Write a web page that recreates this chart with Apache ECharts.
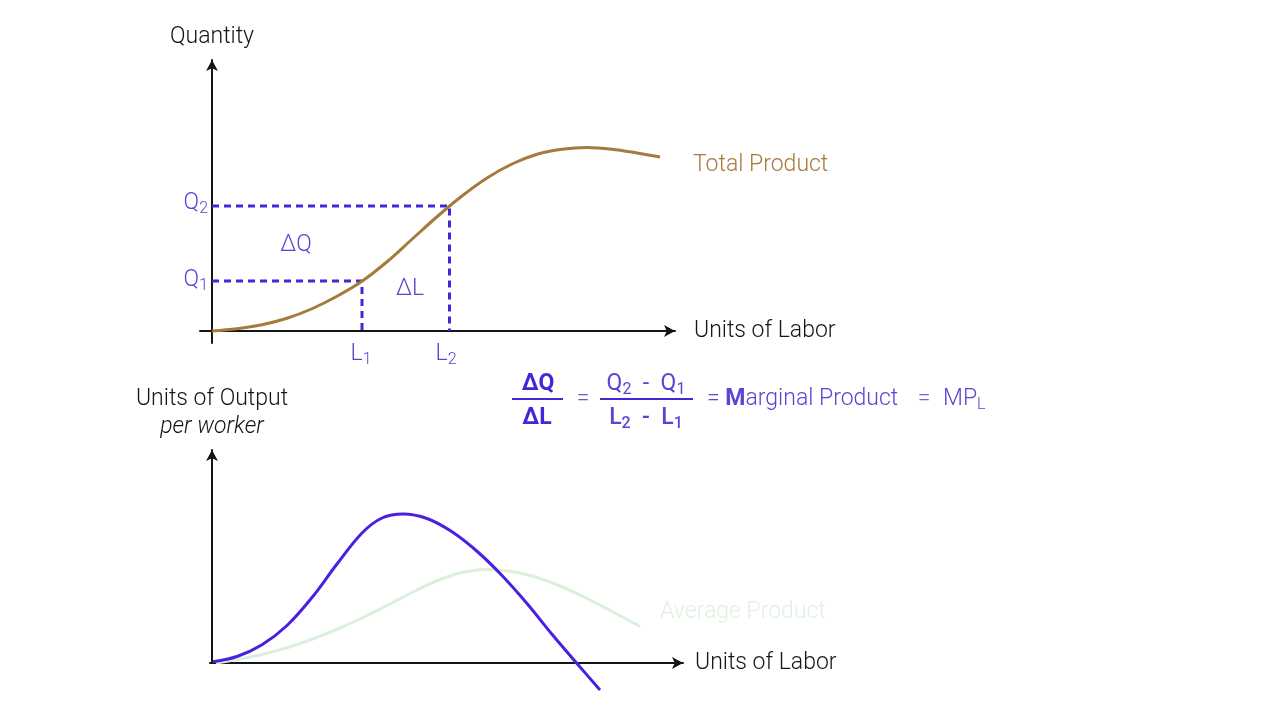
<!DOCTYPE html>
<html>
<head>
<meta charset="utf-8">
<script src="https://cdn.jsdelivr.net/npm/echarts@6/dist/echarts.min.js"></script>
<style>
  html, body { margin: 0; padding: 0; background: #fff; }
  #chart { width: 1280px; height: 720px; }
</style>
</head>
<body>
<div id="chart"></div>
<script>
// 总产量曲线（上图）
const tpLabor = [0, 0.5, 1, 1.5, 2, 2.5, 3, 3.5, 4, 4.5, 5, 5.5, 6, 6.5, 7, 7.5, 8, 8.5, 8.96]
const tpQuantity = [0, 0.09, 0.25, 0.51, 0.89, 1.39, 1.99, 2.77, 3.67, 4.57, 5.4, 6.12, 6.68, 7.07, 7.27, 7.34, 7.27, 7.12, 6.96]

// L1/L2 与 Q1/Q2
const l1 = 3, q1 = 2
const l2 = 4.75, q2 = 5

// 边际产量 / 平均产量（下图）
const mpLabor = [0.02, 0.5, 1, 1.5, 2, 2.5, 3, 3.4, 3.82, 4.3, 4.8, 5.3, 5.8, 6.3, 6.8, 7.3, 7.76]
const mpValue = [0.05, 0.26, 0.73, 1.5, 2.62, 3.96, 5.2, 5.8, 5.96, 5.78, 5.25, 4.47, 3.5, 2.38, 1.15, -0.02, -1.08]
const apLabor = [0.08, 0.5, 1, 1.5, 2, 2.5, 3, 3.5, 4, 4.5, 5, 5.5, 6, 6.5, 7, 7.5, 8, 8.56]
const apValue = [0, 0.14, 0.34, 0.61, 0.95, 1.35, 1.8, 2.3, 2.82, 3.29, 3.62, 3.74, 3.66, 3.42, 3.05, 2.58, 2.06, 1.47]

const FONT = 'Roboto, "Liberation Sans", sans-serif'
const FS = 23
const SUB = 16
const violet = '#4426d6'
const labelViolet = '#5a44d6'
const black = '#151515'

const zip = (xs, ys) => xs.map((x, i) => [x, ys[i]])

const chart = echarts.init(document.getElementById('chart'))

function axisBase() {
  return {
    type: 'value',
    splitLine: { show: false },
    axisTick: { show: false },
    axisLabel: { show: false },
    axisLine: {
      show: true,
      onZero: true,
      symbol: ['none', 'arrow'],
      symbolSize: [9, 11],
      lineStyle: { color: black, width: 2 }
    },
    nameTextStyle: { fontFamily: FONT, fontWeight: 300, fontSize: FS, color: black }
  }
}

function sub(main, s) {
  return `{m|${main}}{s|${s}}`
}
const subRich = (color, weight) => ({
  m: { fontFamily: FONT, fontSize: FS, fontWeight: weight, color, lineHeight: 28 },
  s: { fontFamily: FONT, fontSize: SUB, fontWeight: weight, color, lineHeight: 16, verticalAlign: 'bottom' }
})

function txt(x, y, text, opts = {}) {
  return {
    type: 'text',
    x, y,
    silent: true,
    style: {
      text,
      fill: opts.color || labelViolet,
      font: `${opts.weight || 300} ${opts.size || FS}px ${FONT}`,
      textAlign: opts.align || 'center',
      textVerticalAlign: 'middle',
      rich: opts.rich
    }
  }
}

function hline(x1, x2, y) {
  return {
    type: 'line',
    silent: true,
    shape: { x1, y1: y, x2, y2: y },
    style: { stroke: violet, lineWidth: 2 }
  }
}

const option = {
  backgroundColor: '#ffffff',
  animation: false,
  grid: [
    { left: 200, right: 605, top: 60, bottom: 377 },
    { left: 210, right: 597, top: 450, bottom: 57 }
  ],
  xAxis: [
    Object.assign(axisBase(), { gridIndex: 0, min: -0.24, max: 9.26, name: 'Units of Labor', nameLocation: 'end', nameGap: 19 }),
    Object.assign(axisBase(), { gridIndex: 1, min: -0.04, max: 9.42, name: 'Units of Labor', nameLocation: 'end', nameGap: 12 })
  ],
  yAxis: [
    Object.assign(axisBase(), { gridIndex: 0, min: -0.48, max: 10.84, name: 'Quantity', nameLocation: 'end', nameGap: 11 }),
    Object.assign(axisBase(), {
      gridIndex: 1, min: 0, max: 8.52,
      name: '{a|Units of Output}\n{i|per worker}', nameLocation: 'end', nameGap: 9,
      nameTextStyle: {
        rich: {
          a: { fontFamily: FONT, fontWeight: 300, fontSize: FS, color: black, lineHeight: 28 },
          i: { fontFamily: FONT, fontWeight: 300, fontStyle: 'italic', fontSize: FS, color: black, lineHeight: 28 }
        }
      }
    })
  ],
  series: [
    {
      type: 'line', xAxisIndex: 0, yAxisIndex: 0,
      data: [[0, q2], [l2, q2], [l2, 0]],
      symbol: 'none',
      lineStyle: { color: violet, width: 3, type: [7, 5] }
    },
    {
      type: 'line', xAxisIndex: 0, yAxisIndex: 0,
      data: [[0, q1], [l1, q1], [l1, 0]],
      symbol: 'none',
      lineStyle: { color: violet, width: 3, type: [7, 5] }
    },
    {
      name: 'Total Product',
      type: 'line', xAxisIndex: 0, yAxisIndex: 0,
      data: zip(tpLabor, tpQuantity),
      smooth: 0.35,
      symbol: 'none',
      lineStyle: { color: '#a67a3c', width: 3 },
      endLabel: {
        show: true,
        formatter: 'Total Product',
        offset: [25, 8],
        fontFamily: FONT, fontWeight: 300, fontSize: FS, color: '#a67a3c'
      }
    },
    {
      name: 'Average Product',
      type: 'line', xAxisIndex: 1, yAxisIndex: 1,
      data: zip(apLabor, apValue),
      smooth: 0.35,
      symbol: 'none',
      lineStyle: { color: '#dcefdc', width: 3 },
      endLabel: {
        show: true,
        formatter: 'Average Product',
        offset: [12, -14],
        fontFamily: FONT, fontWeight: 300, fontSize: FS, color: '#e0f1df'
      }
    },
    {
      name: 'Marginal Product',
      type: 'line', xAxisIndex: 1, yAxisIndex: 1,
      data: zip(mpLabor, mpValue),
      smooth: 0.35,
      clip: false,
      symbol: 'none',
      lineStyle: { color: '#4b1fe0', width: 3 }
    }
  ],
  graphic: [
    // 坐标标注
    txt(208, 203, sub('Q', '2'), { align: 'right', rich: subRich(labelViolet, 300) }),
    txt(208, 280, sub('Q', '1'), { align: 'right', rich: subRich(labelViolet, 300) }),
    txt(361, 354, sub('L', '1'), { rich: subRich(labelViolet, 300) }),
    txt(446, 354, sub('L', '2'), { rich: subRich(labelViolet, 300) }),
    txt(296, 245, 'ΔQ'),
    txt(410, 289, 'ΔL'),
    // 公式
    txt(538, 384, 'ΔQ', { color: violet, weight: 700 }),
    hline(512, 563, 399),
    txt(537, 418, 'ΔL', { color: violet, weight: 700 }),
    txt(583, 399, '=', { color: '#6a58d8' }),
    txt(646, 384, sub('Q', '2') + '{m|  -  }' + sub('Q', '1'), { rich: subRich('#5236d8', 400) }),
    hline(600, 693, 399),
    txt(646, 418, sub('L', '2') + '{m|  -  }' + sub('L', '1'), { rich: subRich(violet, 500) }),
    txt(707, 399, '{e|= }{b|M}{e|arginal Product}', {
      align: 'left',
      rich: {
        e: { fontFamily: FONT, fontSize: FS, fontWeight: 300, color: '#7461e2', lineHeight: 28 },
        b: { fontFamily: FONT, fontSize: FS, fontWeight: 700, color: violet, lineHeight: 28 }
      }
    }),
    txt(924, 399, '=', { color: '#7461e2' }),
    txt(943, 399, '{e|MP}{s|L}', {
      align: 'left',
      rich: {
        e: { fontFamily: FONT, fontSize: FS, fontWeight: 300, color: '#7461e2', lineHeight: 28 },
        s: { fontFamily: FONT, fontSize: SUB, fontWeight: 300, color: '#7461e2', lineHeight: 16, verticalAlign: 'bottom' }
      }
    })
  ]
}

chart.setOption(option)
</script>
</body>
</html>
